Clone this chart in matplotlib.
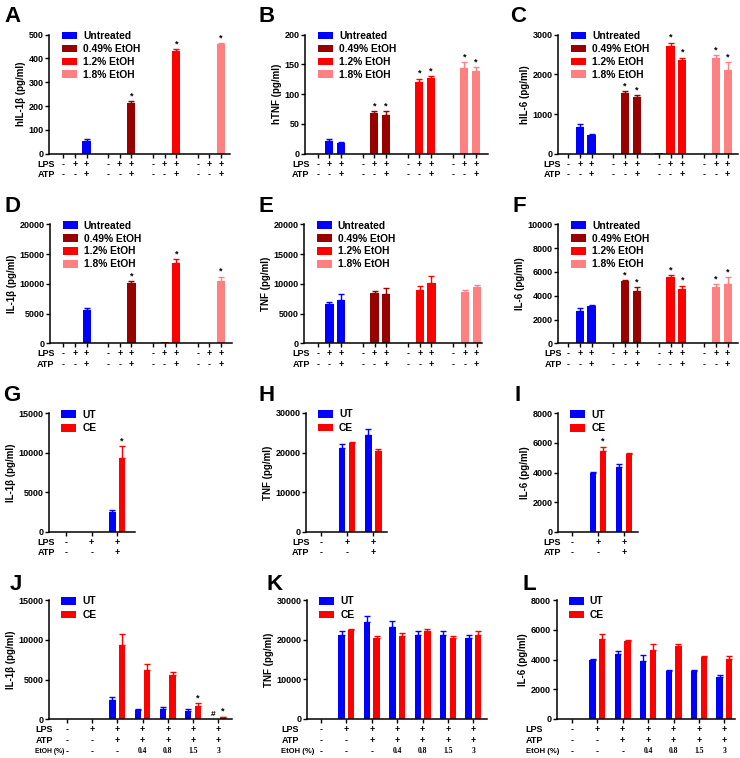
import numpy as np
import matplotlib.pyplot as plt

plt.rcParams['font.family'] = ['Liberation Sans', 'DejaVu Sans']
plt.rcParams['font.weight'] = 'bold'

# ---- data ----
groups4 = ['Untreated', '0.49% EtOH', '1.2% EtOH', '1.8% EtOH']
colors4 = ['#0000ff', '#990000', '#ff0000', '#ff8080']
lps3 = ['-', '+', '+']
atp3 = ['-', '-', '+']

A_vals = [0, 0, 52, 0, 0, 215, 0, 0, 430, 0, 0, 462]
A_err = [0, 0, 10, 0, 0, 6, 0, 0, 9, 0, 0, 4]
A_star = [0, 0, 0, 0, 0, 1, 0, 0, 1, 0, 0, 1]

B_vals = [0, 21, 18, 0, 69, 65, 0, 121, 127, 0, 144, 139]
B_err = [0, 4, 2, 0, 3, 6, 0, 5, 4, 0, 10, 7]
B_star = [0, 0, 0, 0, 1, 1, 0, 1, 1, 0, 1, 1]

C_vals = [0, 670, 480, 0, 1520, 1440, 15, 2720, 2350, 0, 2400, 2120]
C_err = [0, 70, 20, 0, 60, 30, 0, 80, 70, 0, 90, 180]
C_star = [0, 0, 0, 0, 1, 1, 0, 1, 1, 0, 1, 1]

D_vals = [0, 60, 5650, 0, 80, 10200, 0, 150, 13500, 0, 0, 10400]
D_err = [0, 0, 350, 0, 0, 300, 0, 0, 700, 0, 0, 800]
D_star = [0, 0, 0, 0, 0, 1, 0, 0, 1, 0, 0, 1]

E_vals = [0, 6600, 7300, 0, 8500, 8300, 0, 9000, 10100, 0, 8600, 9400]
E_err = [0, 400, 1000, 0, 300, 1000, 0, 700, 1200, 0, 300, 400]
E_star = [0] * 12

F_vals = [0, 2700, 3100, 0, 5200, 4400, 0, 5600, 4600, 0, 4700, 5000]
F_err = [0, 250, 100, 0, 100, 300, 0, 100, 250, 0, 300, 550]
F_star = [0, 0, 0, 0, 1, 1, 0, 1, 1, 0, 1, 1]

G_ut = [0, 0, 2450]; G_ut_err = [0, 0, 300]
G_ce = [0, 0, 9400]; G_ce_err = [0, 0, 1400]
G_star = [0, 0, 1]

H_ut = [0, 21200, 24400]; H_ut_err = [0, 1000, 1500]
H_ce = [0, 22400, 20300]; H_ce_err = [0, 300, 600]
H_star = [0, 0, 0]

I_ut = [0, 3950, 4400]; I_ut_err = [0, 80, 200]
I_ce = [0, 5450, 5250]; I_ce_err = [0, 300, 60]
I_star = [0, 1, 0]

lps7 = ['-', '+', '+', '+', '+', '+', '+']
atp7 = ['-', '-', '+', '+', '+', '+', '+']
etoh7 = ['-', '-', '-', '0.4', '0.8', '1.5', '3']

J_ut = [0, 0, 2450, 1150, 1300, 1100, 80]; J_ut_err = [0, 0, 300, 200, 250, 250, 0]
J_ce = [0, 0, 9400, 6200, 5600, 1650, 250]; J_ce_err = [0, 0, 1300, 800, 400, 350, 100]
J_star = [0, 0, 0, 0, 0, 1, 1]
J_hash = [0, 0, 0, 0, 0, 0, 1]

K_ut = [0, 21200, 24400, 23200, 21200, 21200, 20500]
K_ut_err = [0, 1000, 1500, 1400, 1000, 1000, 700]
K_ce = [0, 22400, 20300, 20900, 22100, 20300, 21100]
K_ce_err = [0, 300, 600, 900, 600, 500, 1000]

L_ut = [0, 3950, 4400, 3900, 3250, 3200, 2850]
L_ut_err = [0, 80, 150, 420, 60, 80, 100]
L_ce = [0, 5400, 5250, 4650, 4900, 4150, 4050]
L_ce_err = [0, 330, 60, 400, 130, 60, 200]

# ---- figure ----
W, H = 740, 758
fig = plt.figure(figsize=(7.4, 7.58), dpi=100)


def add_ax(l, t, r, b):
    return fig.add_axes([l / W, 1 - b / H, (r - l) / W, (b - t) / H])


def style(ax, ymax, ystep, ylabel, xlim):
    for s in ['top', 'right']:
        ax.spines[s].set_visible(False)
    for s in ['left', 'bottom']:
        ax.spines[s].set_linewidth(1.1)
    ax.set_ylim(0, ymax)
    ax.set_xlim(*xlim)
    ax.set_yticks(np.arange(0, ymax + 1, ystep))
    ax.tick_params(axis='y', labelsize=6.5, length=3, width=1, pad=1)
    ax.tick_params(axis='x', length=3, width=1, labelbottom=False)
    ax.set_ylabel(ylabel, fontsize=7, fontweight='bold', labelpad=2)


def cond_rows(ax, xs, rows, lab_px=-13, etoh_fs=5.5):
    for i, (name, vals) in enumerate(rows):
        dy = -7.5 - 7.8 * i
        etoh = name.startswith('EtOH')
        ax.annotate(name, xy=(0, 0), xycoords='axes fraction', xytext=(lab_px * 0.72, dy),
                    textcoords='offset points', ha='left', va='center',
                    fontsize=etoh_fs if etoh else 6.5)
        for x, v in zip(xs, vals):
            if etoh and v != '-':
                ax.annotate(v, xy=(x, 0), xycoords=('data', 'axes fraction'), xytext=(0, dy),
                            textcoords='offset points', ha='center', va='center',
                            fontsize=5.5, family='Liberation Serif')
            else:
                ax.annotate(v, xy=(x, 0), xycoords=('data', 'axes fraction'), xytext=(0, dy),
                            textcoords='offset points', ha='center', va='center', fontsize=6.5)


def bars(ax, xs, vals, errs, color, width, label=None):
    ax.bar(xs, vals, width=width, color=color, linewidth=0, label=label)
    xs = np.asarray(xs); vals = np.asarray(vals); errs = np.asarray(errs)
    m = errs > 0
    if m.any():
        ax.errorbar(xs[m], vals[m], yerr=[np.zeros(m.sum()), errs[m]], fmt='none',
                    ecolor=color, elinewidth=1, capsize=2, capthick=1)


def mark(ax, x, y, s='*'):
    ax.annotate(s, xy=(x, y), xytext=(0, 0.5), textcoords='offset points',
                ha='center', va='bottom', fontsize=6.5 if s == '*' else 6)


def panel4(box, vals, errs, stars, ylabel, ymax, ystep, xlim, lab_px):
    ax = add_ax(*box)
    pos = []
    for g in range(4):
        xs = g * 3.85 + np.arange(3)
        pos.extend(xs)
        sl = slice(3 * g, 3 * g + 3)
        bars(ax, xs, vals[sl], errs[sl], colors4[g], 0.7, label=groups4[g])
    for x, v, e, s in zip(pos, vals, errs, stars):
        if s:
            mark(ax, x, v + e)
    style(ax, ymax, ystep, ylabel, xlim)
    ax.set_xticks(pos)
    cond_rows(ax, pos, [('LPS', lps3 * 4), ('ATP', atp3 * 4)], lab_px)
    ax.legend(loc='upper left', bbox_to_anchor=(0.07, 1.03), frameon=False, fontsize=7.4,
              handlelength=1.45, handleheight=0.75, handletextpad=0.6, labelspacing=0.28,
              borderpad=0, borderaxespad=0)
    return ax


def panel2(box, ut, ut_e, ce, ce_e, stars, ylabel, ymax, ystep, xlim, rows, lab_px,
           hashes=None, etoh_fs=5.5):
    ax = add_ax(*box)
    x = np.arange(len(ut))
    bars(ax, x - 0.19, ut, ut_e, '#0000ff', 0.25, label='UT')
    bars(ax, x + 0.19, ce, ce_e, '#ff0000', 0.25, label='CE')
    for i in range(len(ut)):
        if stars[i]:
            mark(ax, x[i] + 0.19, ce[i] + ce_e[i])
        if hashes is not None and hashes[i]:
            mark(ax, x[i] - 0.19, ut[i] + ut_e[i], '#')
    style(ax, ymax, ystep, ylabel, xlim)
    ax.set_xticks(x)
    cond_rows(ax, x, rows, lab_px, etoh_fs)
    w = (box[2] - box[0])
    ax.legend(loc='upper left', bbox_to_anchor=(12.0 / w, 1.03), frameon=False, fontsize=7.4,
              handlelength=1.45, handleheight=0.75, handletextpad=0.6, labelspacing=0.35,
              borderpad=0, borderaxespad=0)
    return ax


panel4((49.3, 34.7, 230, 153.7), A_vals, A_err, A_star, 'hIL-1\u03b2 (pg/ml)', 500, 100,
       (-1.2, 14.32), -12)
panel4((305, 34.7, 488.3, 153.7), B_vals, B_err, B_star, 'hTNF (pg/ml)', 200, 50,
       (-1.08, 14.6), -13)
panel4((558.3, 34.7, 738.3, 153.7), C_vals, C_err, C_star, 'hIL-6 (pg/ml)', 3000, 1000,
       (-0.82, 14.45), -15)
panel4((50, 224.3, 232.3, 343.3), D_vals, D_err, D_star, 'IL-1\u03b2 (pg/ml)', 20000, 5000,
       (-1.15, 14.52), -13)
panel4((304.3, 224.3, 482.3, 343.3), E_vals, E_err, E_star, 'TNF (pg/ml)', 20000, 5000,
       (-1.14, 14.03), -12)
panel4((558.3, 224.3, 738.3, 343.3), F_vals, F_err, F_star, 'IL-6 (pg/ml)', 10000, 2000,
       (-0.82, 14.45), -14)

rows3 = [('LPS', lps3), ('ATP', atp3)]
panel2((49.3, 413.3, 135, 531.7), G_ut, G_ut_err, G_ce, G_ce_err, G_star, 'IL-1\u03b2 (pg/ml)',
       15000, 5000, (-0.65, 2.69), rows3, -12)
panel2((306, 413, 386.7, 531.7), H_ut, H_ut_err, H_ce, H_ce_err, H_star, 'TNF (pg/ml)',
       30000, 10000, (-0.57, 2.51), rows3, -14)
panel2((558.3, 413.3, 637.7, 531.7), I_ut, I_ut_err, I_ce, I_ce_err, I_star, 'IL-6 (pg/ml)',
       8000, 2000, (-0.53, 2.53), rows3, -15)

rows7 = [('LPS', lps7), ('ATP', atp7), ('EtOH (%)', etoh7)]
panel2((49.3, 600, 231.7, 719.3), J_ut, J_ut_err, J_ce, J_ce_err, J_star, 'IL-1\u03b2 (pg/ml)',
       15000, 5000, (-0.69, 6.53), rows7, -14, hashes=J_hash, etoh_fs=4.9)
panel2((307.3, 600, 486.7, 719), K_ut, K_ut_err, K_ce, K_ce_err, [0] * 7, 'TNF (pg/ml)',
       30000, 10000, (-0.54, 6.52), rows7, -26)
panel2((556.7, 600, 735, 719), L_ut, L_ut_err, L_ce, L_ce_err, [0] * 7, 'IL-6 (pg/ml)',
       8000, 2000, (-0.6, 6.42), rows7, -31)

# panel letters (pixel positions of baseline)
letters = [('A', 4, 22), ('B', 258, 22), ('C', 510, 22),
           ('D', 4, 212), ('E', 258, 212), ('F', 513, 212),
           ('G', 3, 401), ('H', 259, 401), ('I', 514, 401),
           ('J', 10, 590), ('K', 267, 590), ('L', 522, 590)]
for s, x, y in letters:
    fig.text(x / W, 1 - y / H, s, fontsize=16, fontweight='bold', va='baseline', ha='left')

fig.savefig('out.png', dpi=100)
